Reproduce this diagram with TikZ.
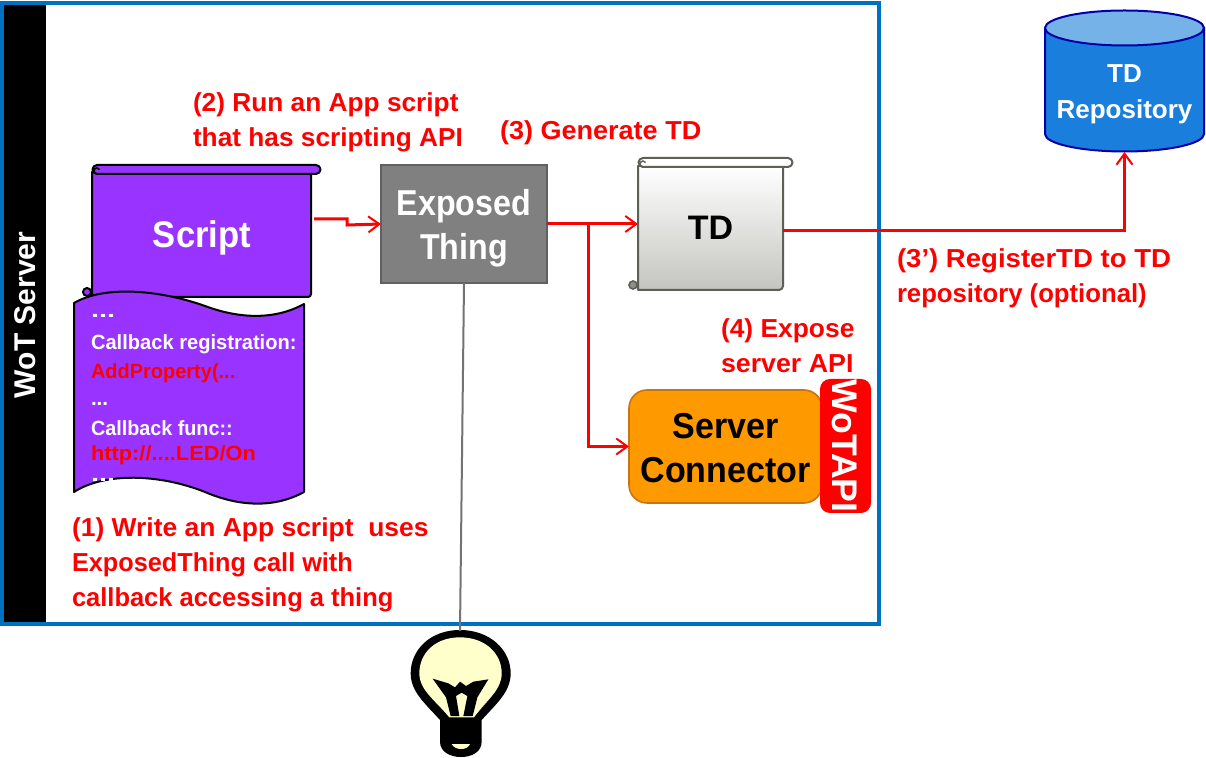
\documentclass[tikz,border=0pt]{standalone}
\usepackage{graphicx}
\usepackage{fontspec}
\setmainfont{Liberation Sans}
\usetikzlibrary{arrows.meta,calc}
\definecolor{framec}{HTML}{0070C0}
\definecolor{purp}{HTML}{9933FF}
\definecolor{tdline}{HTML}{5F5F58}
\definecolor{tdend}{HTML}{C4C4C0}
\definecolor{orangec}{HTML}{FF9900}
\definecolor{orangel}{HTML}{C87412}
\definecolor{repof}{HTML}{1A7FDC}
\definecolor{repot}{HTML}{75B2E8}
\definecolor{repol}{HTML}{0000A8}
\definecolor{bulbc}{HTML}{FFFFCC}
\newcommand{\fsz}[2]{\fontsize{#1}{#2}\selectfont}
\newcommand{\hs}[2]{\scalebox{#1}[1]{#2}}
\tikzset{
  px/.style={inner sep=0pt,outer sep=0pt},
  flow/.style={draw=red,line width=1.5pt,-{Straight Barb[length=5.5pt,width=8pt,line width=1pt]}},
  redlabel/.style={px,anchor=north west,align=left,text=red,font=\bfseries\fsz{13}{17.5}},
  codeline/.style={px,anchor=west,font=\bfseries\fsz{10.3}{12}},
  scrollline/.style={line width=1pt,line join=round},
}
\begin{document}
\begin{tikzpicture}[x=0.5pt,y=-0.5pt]
\useasboundingbox (0,0) rectangle (1206,758);
\fill[white] (0,0) rectangle (1206,758);
% frame
\node[px,draw=framec,line width=2pt,minimum width=438.5pt,minimum height=310.5pt,anchor=north west] (frame) at (2,3) {};
\node[px,fill=black,minimum width=21pt,minimum height=308.5pt,anchor=north west] (bar) at (3.5,5) {};
\node[px,text=white,rotate=90,font=\bfseries\fsz{15}{16}] (wot) at (25,315) {WoT Server};
% script scroll
\draw[fill=purp,scrollline] (92,172) -- (92,297) -- (308,297) to[out=0,in=-90] (311,294) -- (311,172) -- cycle;
\draw[fill=purp,scrollline] (97,165) -- (316,165) arc[start angle=-90,end angle=90,radius=4.5] -- (97,174) arc[start angle=90,end angle=270,radius=4.5] -- cycle;
\draw[line width=0.8pt] (97,174) arc[start angle=90,end angle=330,radius=3];
\node[px,minimum width=110pt,minimum height=66pt,anchor=north west,text=white,font=\bfseries\fsz{18.5}{22}] (script) at (92,165) {\rule{0pt}{20pt}\hs{0.935}{Script}};
% paper
\draw[fill=purp,scrollline] (74,303) .. controls (105,285) and (160,290) .. (205,306) .. controls (240,319) and (275,320) .. (304,304) -- (304,492) .. controls (275,508) and (240,507) .. (205,492) .. controls (160,474) and (105,472) .. (74,492) -- cycle;
\draw[fill=purp,line width=1pt] (87,292) circle[radius=4];
\node[codeline,text=white] (c1) at (91,316) {\hs{1.4}{...}};
\node[codeline,text=white] (c2) at (91,344) {\hs{0.976}{Callback registration:}};
\node[codeline,text=red] (c3) at (91,373) {\hs{0.97}{AddProperty(...}};
\node[codeline,text=white] (c4) at (91,404) {...};
\node[codeline,text=white] (c5) at (91,428) {\hs{0.96}{Callback func::}};
\node[codeline,text=red] (c6) at (91,455) {\hs{1.06}{http://....LED/On}};
\node[codeline,text=white] (c7) at (91,480) {\hs{1.4}{...}};
% exposed thing
\node[px,draw=black!62,fill=black!50,line width=0.7pt,minimum width=83pt,minimum height=59pt,anchor=north west,text=white,align=center,font=\bfseries\fsz{18}{22}] (exposed) at (381,165) {\rule{0pt}{17pt}\hs{0.895}{Exposed}\\\hs{0.895}{Thing}};
% TD scroll
\draw[top color=white,bottom color=tdend,draw=tdline,scrollline] (638,166) -- (638,290) -- (779,290) to[out=0,in=-90] (783,286) -- (783,166) -- cycle;
\draw[fill=white,draw=tdline,scrollline] (643,158) -- (788,158) arc[start angle=-90,end angle=90,radius=4.5] -- (643,167) arc[start angle=90,end angle=270,radius=4.5] -- cycle;
\draw[draw=tdline,line width=0.7pt] (643,167) arc[start angle=90,end angle=330,radius=3];
\draw[fill=tdline!70,draw=tdline,line width=0.8pt] (633,285) circle[radius=4];
\node[px,minimum width=72.5pt,minimum height=62pt,anchor=north west,text=black,font=\bfseries\fsz{17}{20}] (td) at (638,166) {TD};
% server connector
\node[px,draw=orangel,fill=orangec,line width=0.8pt,rounded corners=9pt,minimum width=96.5pt,minimum height=56.5pt,anchor=north west,text=black,align=center,font=\bfseries\fsz{18}{22}] (server) at (629,390) {\rule{0pt}{14pt}\hs{0.945}{Server}\\\hs{0.945}{Connector}};
\node[px,fill=red,rounded corners=5pt,minimum width=25.5pt,minimum height=67pt,anchor=north west] (wotapi) at (820,379) {};
\node[px,rotate=-90,text=white,font=\bfseries\fsz{17.8}{20}] (wotapit) at (845,446) {WoTAPI};
% repository
\draw[fill=repof,draw=repol,line width=1pt] (1045,28) -- (1045,134) arc[start angle=180,end angle=360,x radius=79.5,y radius=-17.5] -- (1204,28) -- cycle;
\draw[fill=repot,draw=repol,line width=1pt] (1124.5,28) ellipse[x radius=79.5,y radius=17.5];
\node[px,minimum width=79.5pt,minimum height=71pt,anchor=north west,text=white,align=center,font=\bfseries\fsz{13}{18}] (repo) at (1045,10) {\rule{0pt}{22pt}TD\\Repository};
% bulb
\begin{scope}[shift={(380,620)},x=0.1667pt,y=-0.1667pt]
\fill[black] (240,30) .. controls (150,30) and (92,90) .. (92,160) .. controls (92,215) and (135,250) .. (180,300) -- (180,365) .. controls (180,395) and (210,411) .. (243,411) .. controls (276,411) and (305,395) .. (305,365) -- (305,300) .. controls (350,250) and (392,215) .. (392,160) .. controls (392,90) and (330,30) .. (240,30) -- cycle;
\fill[bulbc] (240,52) .. controls (165,52) and (118,100) .. (118,160) .. controls (118,210) and (165,240) .. (208,292) -- (282,292) .. controls (320,240) and (365,210) .. (365,160) .. controls (365,100) and (315,52) .. (240,52) -- cycle;
\fill[black] (158,176) -- (205,190) -- (225,202) -- (240,185) -- (258,198) -- (280,185) -- (325,178) -- (292,232) -- (278,288) -- (250,288) -- (262,228) -- (245,218) -- (228,228) -- (238,288) -- (212,288) -- (198,232) -- cycle;
\fill[bulbc] (215,372) -- (270,372) .. controls (262,392) and (225,392) .. (215,372) -- cycle;
\end{scope}
\coordinate (bulb) at (460,631);
\coordinate (j) at (588,225);
% connectors
\draw[black!55,line width=1pt] (exposed.south) -- (bulb);
\draw[flow] ([shift={(2,-12)}]script.east) -- ++(33,0) -- ++(0,6) -- (exposed.west);
\draw[flow] (exposed.east) -- (exposed.east -| td.west);
\draw[flow] (j) |- (server.west);
\draw[flow] ([shift={(0,3)}]td.east) -| (repo.south);
% labels
\node[redlabel] (l2) at (193,93) {\hs{1.01}{(2) Run an App script}\\\hs{1.01}{that has scripting API}};
\node[redlabel] (l3) at (500,121) {\hs{1.04}{(3) Generate TD}};
\node[redlabel] (l3p) at (897,249) {\hs{1.06}{(3’) RegisterTD to TD}\\\hs{0.988}{repository (optional)}};
\node[redlabel] (l4) at (721,319) {\hs{1.015}{(4) Expose}\\\hs{1.03}{server API}};
\node[redlabel] (l1) at (72,518) {\hs{1.017}{(1) Write an App script\ \ uses}\\\hs{0.972}{ExposedThing call with}\\\hs{0.98}{callback accessing a thing}};
\end{tikzpicture}
\end{document}
